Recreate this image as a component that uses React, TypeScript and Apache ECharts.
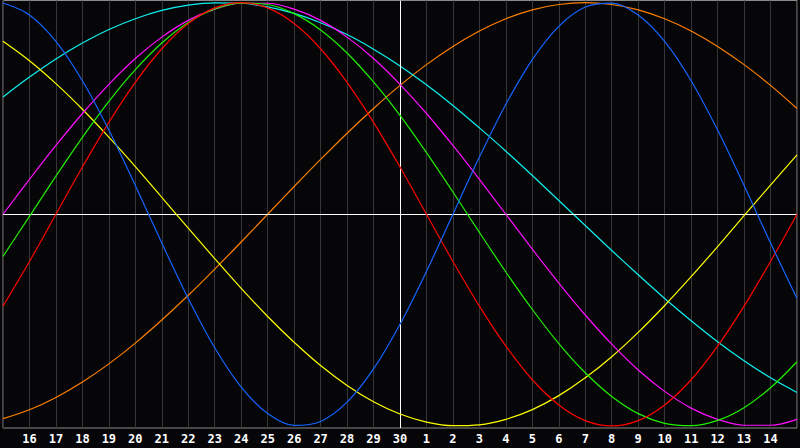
import React, { useEffect, useRef } from "react";
import * as echarts from "echarts";

const days = [
  "15", "16", "17", "18", "19", "20", "21", "22", "23", "24", "25", "26", "27", "28", "29", "30",
  "1", "2", "3", "4", "5", "6", "7", "8", "9", "10", "11", "12", "13", "14", "15",
];

const physical = [99.8, 94.2, 81.7, 63.1, 39.8, 13.6, -13.6, -39.8, -63.1, -81.7, -94.2, -99.8, -97.9, -88.8, -73.1, -52.0, -27.0, 0, 27.0, 52.0, 73.1, 88.8, 97.9, 99.8, 94.2, 81.7, 63.1, 39.8, 13.6, -13.6, -39.8];
const emotional = [-43.4, -22.3, 0, 22.3, 43.4, 62.3, 78.2, 90.1, 97.5, 100, 97.5, 90.1, 78.2, 62.3, 43.4, 22.3, 0, -22.3, -43.4, -62.3, -78.2, -90.1, -97.5, -100, -97.5, -90.1, -78.2, -62.3, -43.4, -22.3, 0];
const intellectual = [-19.9, -1.0, 18.0, 36.3, 53.3, 68.3, 80.9, 90.6, 97.0, 99.8, 99.1, 94.8, 87.1, 76.2, 62.5, 46.7, 29.1, 10.5, -8.6, -27.3, -45.0, -61.1, -74.9, -86.1, -94.2, -98.8, -99.9, -97.4, -91.4, -82.0, -69.7];
const intuitive = [0, 16.5, 32.5, 47.6, 61.4, 73.6, 83.7, 91.6, 96.9, 99.7, 99.7, 96.9, 91.6, 83.7, 73.6, 61.4, 47.6, 32.5, 16.5, 0, -16.5, -32.5, -47.6, -61.4, -73.6, -83.7, -91.6, -96.9, -99.7, -99.7, -96.9];
const aesthetic = [81.7, 72.5, 61.7, 49.6, 36.4, 22.5, 8.0, -6.6, -21.0, -35.0, -48.3, -60.5, -71.5, -80.9, -88.6, -94.4, -98.2, -99.9, -99.5, -96.9, -92.3, -85.7, -77.3, -67.3, -55.8, -43.1, -29.5, -15.3, -0.7, 13.8, 28.1];
const awareness = [-96.6, -92.4, -86.6, -79.3, -70.7, -60.9, -50.0, -38.3, -25.9, -13.1, 0, 13.1, 25.9, 38.3, 50.0, 60.9, 70.7, 79.3, 86.6, 92.4, 96.6, 99.1, 100, 99.1, 96.6, 92.4, 86.6, 79.3, 70.7, 60.9, 50.0];
const spiritual = [55.4, 64.8, 73.4, 80.9, 87.3, 92.4, 96.3, 98.8, 99.9, 99.7, 98.0, 94.9, 90.5, 84.9, 78.0, 70.1, 61.2, 51.4, 40.8, 29.8, 18.3, 6.5, -5.3, -17.1, -28.6, -39.8, -50.3, -60.2, -69.2, -77.3, -84.2];

const seriesNames = ["Awareness", "Spiritual", "Aesthetic", "Intuitive", "Intellectual", "Emotional", "Physical"];
const seriesData = [awareness, spiritual, aesthetic, intuitive, intellectual, emotional, physical];
const seriesColors = ["#ff8000", "#10f0f0", "#ffff00", "#ff10ff", "#20f000", "#ff0000", "#1464ff"];

export default function App() {
  const ref = useRef<HTMLDivElement>(null);
  useEffect(() => {
    if (!ref.current) return;
    const chart = echarts.init(ref.current, null, { renderer: "svg" });
    const series: any[] = seriesData.map((d, i) => ({
      name: seriesNames[i],
      type: "line",
      data: d,
      smooth: 0.33,
      showSymbol: false,
      lineStyle: { color: seriesColors[i], width: 1.2 },
      itemStyle: { color: seriesColors[i] },
      z: 3 + i,
    }));
    series.push({
      type: "line",
      data: [],
      silent: true,
      markLine: {
        silent: true,
        symbol: "none",
        label: { show: false },
        lineStyle: { color: "#ffffff", width: 1, type: "solid" },
        data: [{ xAxis: "30" }, { yAxis: 0 }],
      },
      z: 2,
    });
    chart.setOption({
      animation: false,
      backgroundColor: "#060609",
      grid: {
        left: 0.5,
        right: 0.5,
        top: 0.5,
        bottom: 20,
        show: true,
        borderColor: "#8a8a8a",
        borderWidth: 1,
        backgroundColor: "transparent",
      },
      xAxis: {
        type: "category",
        data: days,
        boundaryGap: false,
        axisLine: { show: false },
        axisTick: { show: false },
        splitLine: { show: true, interval: 0, lineStyle: { color: "#363636", width: 1 } },
        axisLabel: {
          interval: 0,
          color: "#ffffff",
          fontFamily: "DejaVu Sans Mono",
          fontWeight: "bold",
          fontSize: 12,
          margin: 5,
          formatter: (v: string, idx: number) => (idx === 0 || idx === days.length - 1 ? "" : v),
        },
      },
      yAxis: {
        type: "value",
        min: -101,
        max: 101,
        show: false,
        splitLine: { show: false },
      },
      series,
    });
    return () => chart.dispose();
  }, []);
  return <div ref={ref} style={{ width: 800, height: 448, position: "fixed", left: 0, top: 0 }} />;
}
